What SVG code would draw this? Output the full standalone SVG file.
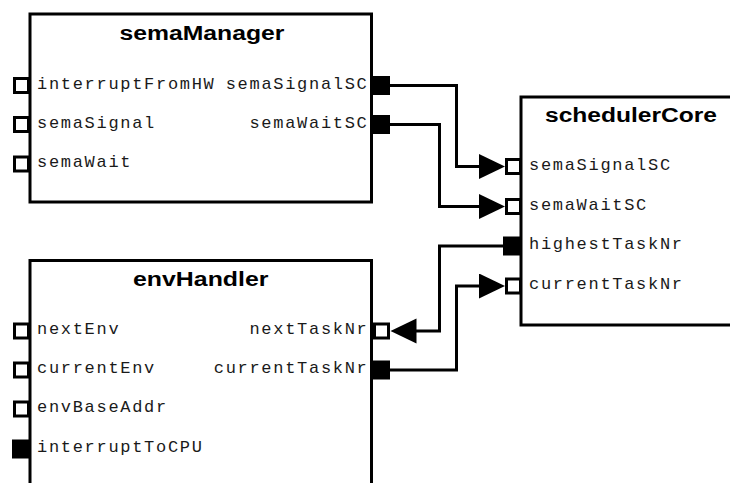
<svg xmlns="http://www.w3.org/2000/svg" width="730" height="483" viewBox="0 0 730 483">
  <style>
    .box { fill: #fff; stroke: #000; stroke-width: 3; }
    .pin { fill: #fff; stroke: #000; stroke-width: 3; }
    .pout { fill: #000; stroke: #000; stroke-width: 3; }
    .title { font-family: "Liberation Sans", Arial, Helvetica, sans-serif; font-weight: bold; font-size: 19.5px; fill: #000; }
    .lbl { font-family: "Liberation Mono", "Courier New", monospace; font-size: 17px; letter-spacing: 1.7px; fill: #1a1a1a; }
    .end { text-anchor: end; }
    .wire { fill: none; stroke: #000; stroke-width: 3; }
  </style>
  <defs>
    <marker id="head" markerUnits="userSpaceOnUse" markerWidth="27" markerHeight="26" refX="1" refY="12.5" orient="auto">
      <path d="M0,0 L26,12.5 L0,25 Z" fill="#000"/>
    </marker>
  </defs>

  <!-- semaManager block -->
  <g id="semaManager">
    <rect class="box" x="30" y="14" width="341.5" height="188"/>
    <text class="title" x="119.5" y="39.5" textLength="165" lengthAdjust="spacingAndGlyphs">semaManager</text>
    <rect class="pin" x="14.5" y="78.5" width="14" height="14"/>
    <rect class="pin" x="14.5" y="117.5" width="14" height="14"/>
    <rect class="pin" x="14.5" y="157" width="14" height="14"/>
    <rect class="pout" x="373" y="77.5" width="15.5" height="16"/>
    <rect class="pout" x="373" y="116.5" width="15.5" height="16"/>
    <text class="lbl" x="37" y="88.5">interruptFromHW</text>
    <text class="lbl" x="37" y="127.5">semaSignal</text>
    <text class="lbl" x="37" y="167">semaWait</text>
    <text class="lbl end" x="368.5" y="88.5">semaSignalSC</text>
    <text class="lbl end" x="368.5" y="127.5">semaWaitSC</text>
  </g>

  <!-- schedulerCore block -->
  <g id="schedulerCore">
    <rect class="box" x="521" y="97" width="222" height="228"/>
    <text class="title" x="545" y="122" textLength="172" lengthAdjust="spacingAndGlyphs">schedulerCore</text>
    <rect class="pin" x="506.5" y="159.5" width="14" height="14"/>
    <rect class="pin" x="506.5" y="199.5" width="14" height="14"/>
    <rect class="pout" x="504.5" y="238" width="15.5" height="16"/>
    <rect class="pin" x="506.5" y="279" width="14" height="14"/>
    <text class="lbl" x="529" y="169.5">semaSignalSC</text>
    <text class="lbl" x="529" y="209.5">semaWaitSC</text>
    <text class="lbl" x="529" y="249">highestTaskNr</text>
    <text class="lbl" x="529" y="289">currentTaskNr</text>
  </g>

  <!-- envHandler block -->
  <g id="envHandler">
    <rect class="box" x="30" y="260.5" width="341.5" height="240"/>
    <text class="title" x="133" y="285.5" textLength="135.5" lengthAdjust="spacingAndGlyphs">envHandler</text>
    <rect class="pin" x="14.5" y="324" width="14" height="14"/>
    <rect class="pin" x="14.5" y="363" width="14" height="14"/>
    <rect class="pin" x="14.5" y="402" width="14" height="14"/>
    <rect class="pout" x="13.5" y="441" width="15.5" height="16"/>
    <rect class="pin" x="374.5" y="324" width="14" height="14"/>
    <rect class="pout" x="373" y="362" width="15.5" height="16"/>
    <text class="lbl" x="37" y="334">nextEnv</text>
    <text class="lbl" x="37" y="373">currentEnv</text>
    <text class="lbl" x="37" y="412">envBaseAddr</text>
    <text class="lbl" x="37" y="452">interruptToCPU</text>
    <text class="lbl end" x="368.5" y="334">nextTaskNr</text>
    <text class="lbl end" x="368.5" y="373">currentTaskNr</text>
  </g>

  <!-- signal wires -->
  <g id="connectors">
    <path class="wire" d="M390,85.5 H456.5 V166.5 H480" marker-end="url(#head)"/>
    <path class="wire" d="M390,124.5 H439.5 V206.5 H480" marker-end="url(#head)"/>
    <path class="wire" d="M503,246 H439.5 V331 H415.5" marker-end="url(#head)"/>
    <path class="wire" d="M390,370 H456.5 V286 H480" marker-end="url(#head)"/>
  </g>
</svg>
